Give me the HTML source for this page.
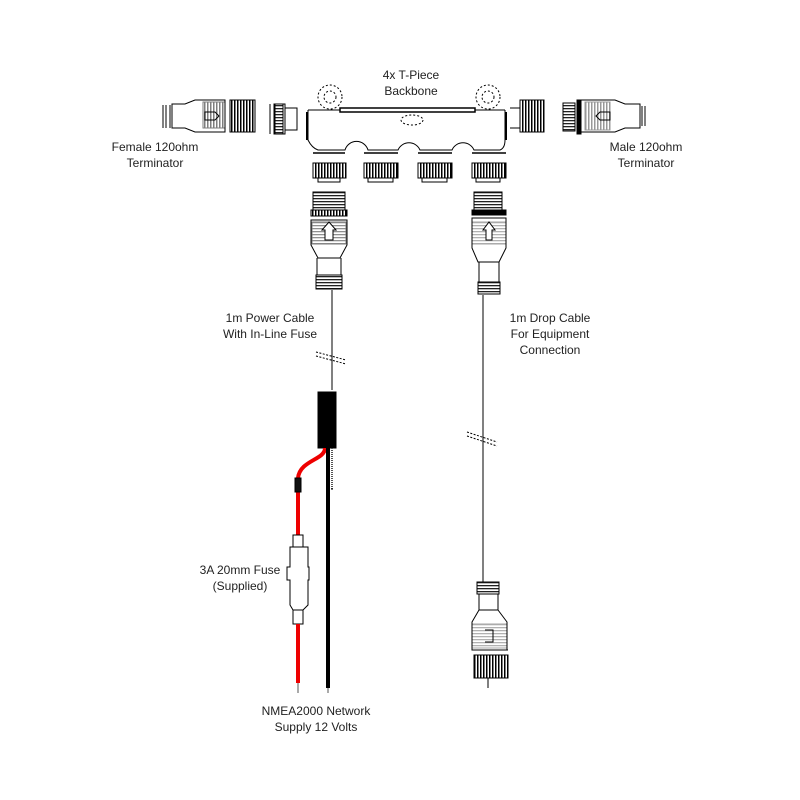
<!DOCTYPE html>
<html><head><meta charset="utf-8"><style>
html,body{margin:0;padding:0;background:#fff}
svg{display:block}
text{font-family:"Liberation Sans",sans-serif;font-size:12px;fill:#222;text-anchor:middle}
</style></head><body>
<svg width="800" height="800" viewBox="0 0 800 800" xmlns="http://www.w3.org/2000/svg">
<defs>
<pattern id="kn" width="3" height="10" patternUnits="userSpaceOnUse"><rect width="1.5" height="10" fill="#000"/></pattern>
<pattern id="kh" width="10" height="3" patternUnits="userSpaceOnUse"><rect width="10" height="1.3" fill="#222"/></pattern>
</defs>
<g fill="none" stroke="#000" stroke-width="1">
<!-- T-piece body -->
<path d="M308 110 L340 110 M475 110 L505 110 M308 110 L308 140 Q312 148 318 150 L345 150 A12 12 0 0 1 368 150 L398 150 A12 12 0 0 1 420 150 L452 150 A12 12 0 0 1 474 150 L500 150 Q505 148 505 140 L505 110"/>
<rect x="340" y="108" width="135" height="4" stroke-width="1.5"/>
<circle cx="330" cy="97" r="12" stroke-dasharray="2 2"/><circle cx="330" cy="97" r="6" stroke-dasharray="2 2"/>
<circle cx="488" cy="97" r="12" stroke-dasharray="2 2"/><circle cx="488" cy="97" r="6" stroke-dasharray="2 2"/>
<ellipse cx="412" cy="120" rx="11" ry="5" stroke-dasharray="2 2"/>
<path d="M307 112 L307 140 M506 112 L506 140" stroke-width="2"/>
<!-- ports -->
<g stroke-width="1.5"><path d="M313 153 H345 M364 153 H398 M418 153 H452 M472 153 H506"/></g>
<rect x="313" y="163" width="33" height="15" fill="url(#kn)"/>
<rect x="364" y="163" width="34" height="15" fill="url(#kn)"/>
<rect x="418" y="163" width="34" height="15" fill="url(#kn)"/>
<rect x="472" y="163" width="34" height="15" fill="url(#kn)"/>
<path d="M318 178 V182 H340 V178 M368 178 V182 H393 V178 M422 178 V182 H447 V178 M476 178 V182 H500 V178"/>
<!-- left terminator -->
<path d="M163 105 V128 M166 105 V128 M170 105 V128 M172 104 H185 L195 100 H225 V132 H195 L185 128 H172 Z"/>
<rect x="203" y="102" width="22" height="26" fill="url(#kn)" opacity="0.5"/>
<path d="M205 112 H215 L219 116 L215 120 H205 Z"/>
<rect x="230" y="100" width="25" height="32" fill="url(#kn)"/>
<path d="M270 104 V134 M274 104 V134 H285 V104 Z M285 108 H297 V130 H285"/>
<rect x="275" y="104" width="8" height="30" fill="url(#kh)"/>
<!-- right terminator -->
<rect x="520" y="100" width="24" height="32" fill="url(#kn)"/>
<path d="M510 108 H520 M510 128 H520"/>
<rect x="563" y="103" width="12" height="28" fill="url(#kh)"/>
<rect x="577" y="100" width="4" height="34" fill="#000"/>
<path d="M581 100 H615 L625 104 H640 V128 H625 L615 132 H581 Z M645 106 V126 M642 106 V126"/>
<rect x="585" y="102" width="25" height="28" fill="url(#kn)" opacity="0.4"/>
<path d="M610 112 H600 L596 116 L600 120 H610 Z"/>
<!-- left power connector -->
<rect x="313" y="192" width="32" height="18" fill="url(#kh)"/>
<rect x="311" y="210" width="36" height="6" fill="url(#kn)"/>
<path d="M311 220 H347 V245 L340 258 H318 L311 245 Z"/>
<rect x="312" y="222" width="34" height="22" fill="url(#kh)" opacity="0.5"/>
<path d="M325 240 V230 L322 230 L329 222 L336 230 L333 230 V240 Z" fill="#fff"/>
<path d="M317 258 V275 H341 V258"/>
<rect x="316" y="275" width="26" height="14" fill="url(#kh)"/>
<path d="M332 290 V390"/>
<path d="M316 352 L346 360 M316 356 L346 364" stroke-dasharray="2 1.5"/>
<!-- fuse holder -->
<rect x="318" y="392" width="18" height="56" fill="#000"/>
<path d="M325 448 C325 460 300 460 298 478 L298 540" stroke="#e00" stroke-width="4"/>
<rect x="295" y="478" width="6" height="14" fill="#111"/>
<path d="M332 448 V490" stroke="#555" stroke-dasharray="1 1" stroke-width="2"/>
<path d="M328 448 V688" stroke="#000" stroke-width="4"/>
<rect x="293" y="535" width="10" height="12" fill="#fff"/>
<path d="M290 547 H308 V567 H309 V580 H308 V605 L303 610 H293 L290 605 V580 H287 V567 H290 Z" fill="#fff"/>
<rect x="293" y="610" width="10" height="14" fill="#fff"/>
<path d="M298 624 V683" stroke="#e00" stroke-width="4"/>
<path d="M298 683 V693 M328 688 V693" stroke="#aaa" stroke-width="2"/>
<path d="M332 488 V490"/>
<!-- right drop connector -->
<rect x="474" y="192" width="28" height="18" fill="url(#kh)"/>
<rect x="472" y="210" width="34" height="5" fill="#000"/>
<path d="M472 218 H506 V248 L499 262 H478 L472 248 Z"/>
<rect x="472" y="222" width="34" height="22" fill="url(#kh)" opacity="0.35"/>
<path d="M486 240 V230 L483 230 L489 222 L495 230 L492 230 V240 Z" fill="#fff"/>
<path d="M479 262 V282 H499 V262"/>
<rect x="478" y="282" width="22" height="12" fill="url(#kh)"/>
<path d="M483 295 V582"/>
<path d="M467 432 L497 442 M467 436 L497 446" stroke-dasharray="2 1.5"/>
<rect x="477" y="582" width="22" height="12" fill="url(#kh)"/>
<path d="M479 594 V610 H498 V594 M479 610 L472 622 V650 H507 V622 L498 610"/>
<rect x="472" y="624" width="35" height="24" fill="url(#kh)" opacity="0.35"/>
<path d="M485 630 H493 V642 H485" />
<rect x="474" y="655" width="34" height="23" fill="url(#kn)"/>
<path d="M474 650 H508 M488 678 V688"/>
</g>
<text x="411" y="79">4x T-Piece</text>
<text x="411" y="95">Backbone</text>
<text x="155" y="151">Female 120ohm</text>
<text x="155" y="167">Terminator</text>
<text x="646" y="151">Male 120ohm</text>
<text x="646" y="167">Terminator</text>
<text x="270" y="322">1m Power Cable</text>
<text x="270" y="338">With In-Line Fuse</text>
<text x="550" y="322">1m Drop Cable</text>
<text x="550" y="338">For Equipment</text>
<text x="550" y="354">Connection</text>
<text x="240" y="574">3A 20mm Fuse</text>
<text x="240" y="590">(Supplied)</text>
<text x="316" y="715">NMEA2000 Network</text>
<text x="316" y="731">Supply 12 Volts</text>
</svg>
</body></html>
